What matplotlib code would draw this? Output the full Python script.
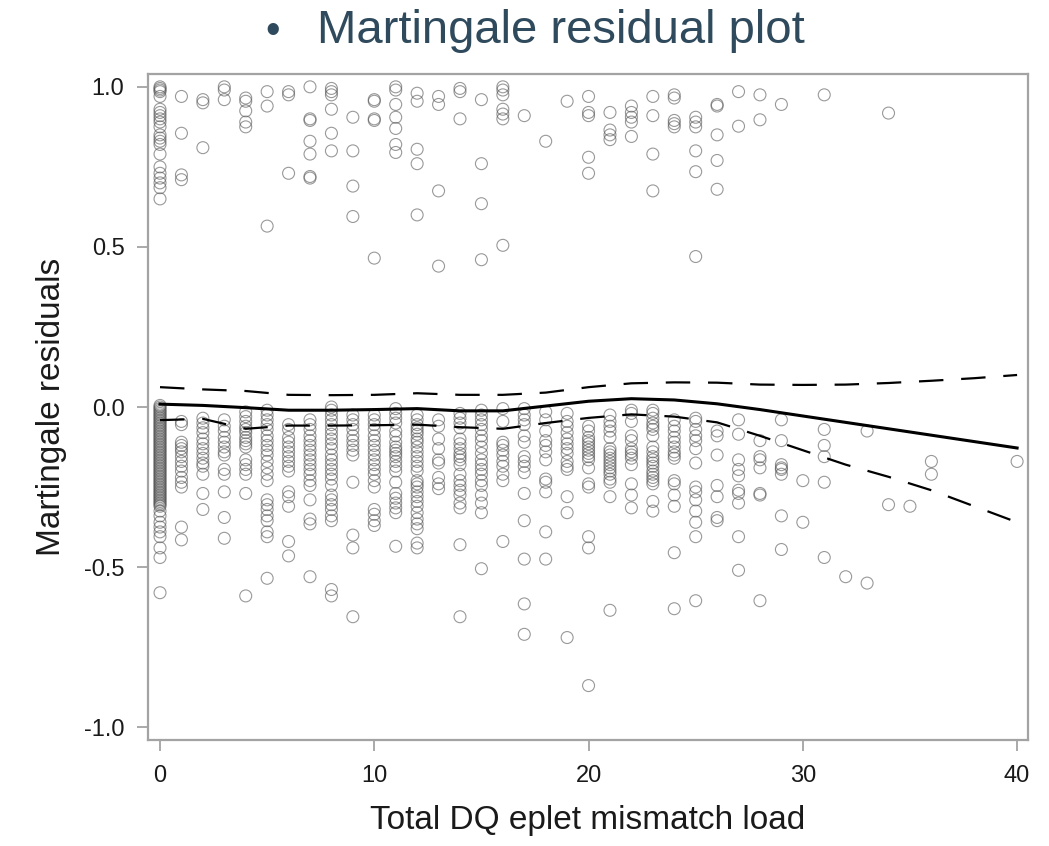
import matplotlib
matplotlib.use('Agg')
import matplotlib.pyplot as plt

plt.rcParams['font.family'] = ['Liberation Sans', 'DejaVu Sans']

# martingale residuals, grouped by total DQ eplet mismatch load
# upper band (patients with an event)
resid_hi = {
    0: [1.0, 0.995, 0.99, 0.985, 0.97, 0.93, 0.92, 0.91, 0.90, 0.89, 0.875, 0.85,
        0.84, 0.83, 0.82, 0.79, 0.75, 0.73, 0.715, 0.70, 0.685, 0.65],
    1: [0.97, 0.855, 0.725, 0.71],
    2: [0.96, 0.95, 0.81],
    3: [1.0, 0.99, 0.96],
    4: [0.965, 0.955, 0.925, 0.89, 0.875],
    5: [0.985, 0.94, 0.565],
    6: [0.985, 0.975, 0.73],
    7: [1.0, 0.90, 0.895, 0.83, 0.79, 0.72, 0.715],
    8: [0.995, 0.985, 0.975, 0.93, 0.855, 0.80],
    9: [0.905, 0.80, 0.69, 0.595],
    10: [0.96, 0.955, 0.90, 0.895, 0.465],
    11: [1.0, 0.99, 0.945, 0.905, 0.87, 0.82, 0.795],
    12: [0.98, 0.955, 0.805, 0.76, 0.60],
    13: [0.97, 0.945, 0.675, 0.44],
    14: [0.995, 0.985, 0.90],
    15: [0.96, 0.76, 0.635, 0.46],
    16: [1.0, 0.99, 0.975, 0.93, 0.915, 0.90, 0.505],
    17: [0.91],
    18: [0.83],
    19: [0.955],
    20: [0.97, 0.92, 0.91, 0.78, 0.73],
    21: [0.92, 0.865, 0.85, 0.835],
    22: [0.94, 0.92, 0.905, 0.89, 0.845],
    23: [0.97, 0.91, 0.79, 0.675],
    24: [0.975, 0.965, 0.895, 0.885, 0.875],
    25: [0.905, 0.89, 0.875, 0.80, 0.735, 0.47],
    26: [0.945, 0.94, 0.85, 0.77, 0.68],
    27: [0.985, 0.877],
    28: [0.975, 0.897],
    29: [0.945],
    31: [0.975],
    34: [0.918],
}

# lower band (censored patients)
resid_lo = {
    0: [0.005, 0.0, -0.005, -0.01, -0.015, -0.02, -0.025, -0.03, -0.035, -0.04, -0.045,
        -0.05, -0.055, -0.06, -0.065, -0.07, -0.075, -0.08, -0.085, -0.09, -0.095, -0.10,
        -0.105, -0.11, -0.115, -0.12, -0.125, -0.13, -0.135, -0.14, -0.145, -0.15, -0.155,
        -0.16, -0.165, -0.17, -0.175, -0.18, -0.185, -0.19, -0.195, -0.20, -0.205, -0.21,
        -0.215, -0.22, -0.225, -0.23, -0.235, -0.24, -0.245, -0.25, -0.255, -0.26, -0.265,
        -0.27, -0.275, -0.28, -0.285, -0.29, -0.295, -0.30, -0.305, -0.31, -0.325, -0.34,
        -0.36, -0.375, -0.39, -0.405, -0.44, -0.47, -0.58],
    1: [-0.045, -0.055, -0.11, -0.12, -0.13, -0.14, -0.155, -0.17, -0.185, -0.20, -0.22,
        -0.235, -0.25, -0.375, -0.415],
    2: [-0.035, -0.05, -0.065, -0.08, -0.10, -0.115, -0.13, -0.145, -0.16, -0.175, -0.185,
        -0.21, -0.27, -0.32],
    3: [-0.04, -0.06, -0.075, -0.095, -0.11, -0.125, -0.14, -0.15, -0.195, -0.21, -0.265,
        -0.345, -0.41],
    4: [-0.015, -0.03, -0.045, -0.06, -0.07, -0.08, -0.095, -0.105, -0.115, -0.125, -0.165,
        -0.18, -0.195, -0.21, -0.27, -0.59],
    5: [-0.01, -0.025, -0.04, -0.055, -0.07, -0.09, -0.105, -0.12, -0.135, -0.15, -0.17,
        -0.19, -0.21, -0.23, -0.29, -0.305, -0.32, -0.34, -0.355, -0.39, -0.405, -0.535],
    6: [-0.055, -0.07, -0.095, -0.11, -0.125, -0.14, -0.155, -0.17, -0.185, -0.20, -0.265,
        -0.28, -0.31, -0.42, -0.465],
    7: [-0.04, -0.055, -0.07, -0.09, -0.105, -0.12, -0.135, -0.15, -0.165, -0.18, -0.195,
        -0.21, -0.23, -0.245, -0.29, -0.35, -0.365, -0.53],
    8: [0.0, -0.01, -0.025, -0.04, -0.055, -0.07, -0.085, -0.10, -0.115, -0.13, -0.15,
        -0.165, -0.18, -0.195, -0.21, -0.225, -0.245, -0.275, -0.29, -0.305, -0.32, -0.34,
        -0.355, -0.57, -0.59],
    9: [-0.025, -0.04, -0.055, -0.07, -0.09, -0.105, -0.12, -0.135, -0.15, -0.235, -0.40,
        -0.44, -0.655],
    10: [-0.025, -0.04, -0.055, -0.07, -0.09, -0.105, -0.12, -0.135, -0.15, -0.165, -0.18,
         -0.195, -0.21, -0.23, -0.25, -0.32, -0.335, -0.355, -0.37],
    11: [-0.005, -0.02, -0.035, -0.05, -0.075, -0.09, -0.11, -0.125, -0.135, -0.145, -0.155,
         -0.17, -0.185, -0.20, -0.235, -0.27, -0.285, -0.30, -0.315, -0.33, -0.435],
    12: [-0.025, -0.04, -0.055, -0.065, -0.075, -0.085, -0.10, -0.11, -0.125, -0.14, -0.155,
         -0.17, -0.185, -0.20, -0.23, -0.24, -0.25, -0.265, -0.28, -0.295, -0.31, -0.33,
         -0.35, -0.365, -0.38, -0.425, -0.44],
    13: [-0.04, -0.06, -0.10, -0.13, -0.165, -0.175, -0.22, -0.24, -0.255],
    14: [-0.02, -0.035, -0.05, -0.065, -0.10, -0.115, -0.13, -0.145, -0.155, -0.165, -0.18,
         -0.21, -0.23, -0.245, -0.26, -0.275, -0.30, -0.315, -0.43, -0.655],
    15: [-0.01, -0.025, -0.04, -0.055, -0.07, -0.09, -0.105, -0.125, -0.145, -0.165, -0.18,
         -0.195, -0.21, -0.23, -0.245, -0.275, -0.30, -0.33, -0.505],
    16: [-0.005, -0.045, -0.11, -0.12, -0.135, -0.15, -0.17, -0.185, -0.21, -0.23, -0.42],
    17: [-0.005, -0.025, -0.04, -0.055, -0.09, -0.11, -0.155, -0.17, -0.185, -0.205, -0.27,
         -0.355, -0.475, -0.615, -0.71],
    18: [-0.015, -0.04, -0.075, -0.105, -0.12, -0.14, -0.165, -0.225, -0.235, -0.265, -0.39,
         -0.475],
    19: [-0.02, -0.045, -0.06, -0.08, -0.10, -0.115, -0.13, -0.145, -0.17, -0.185, -0.195,
         -0.28, -0.33, -0.72],
    20: [-0.06, -0.075, -0.095, -0.105, -0.115, -0.125, -0.135, -0.145, -0.155, -0.165,
         -0.19, -0.24, -0.25, -0.405, -0.44, -0.87],
    21: [-0.025, -0.045, -0.06, -0.075, -0.095, -0.13, -0.14, -0.15, -0.16, -0.17, -0.18,
         -0.19, -0.20, -0.21, -0.225, -0.235, -0.28, -0.635],
    22: [-0.01, -0.02, -0.045, -0.09, -0.105, -0.13, -0.14, -0.15, -0.16, -0.18, -0.24,
         -0.275, -0.315],
    23: [-0.01, -0.02, -0.035, -0.05, -0.06, -0.07, -0.09, -0.125, -0.14, -0.155, -0.165,
         -0.175, -0.185, -0.20, -0.21, -0.22, -0.23, -0.24, -0.295, -0.325],
    24: [-0.04, -0.06, -0.075, -0.095, -0.11, -0.125, -0.14, -0.15, -0.16, -0.23, -0.24,
         -0.275, -0.31, -0.455, -0.63],
    25: [-0.035, -0.045, -0.07, -0.09, -0.105, -0.13, -0.175, -0.25, -0.265, -0.29, -0.325,
         -0.36, -0.405, -0.605],
    26: [-0.075, -0.09, -0.15, -0.245, -0.28, -0.345, -0.355],
    27: [-0.04, -0.085, -0.165, -0.195, -0.215, -0.26, -0.27, -0.30, -0.405, -0.51],
    28: [-0.105, -0.155, -0.165, -0.19, -0.27, -0.275, -0.605],
    29: [-0.04, -0.105, -0.18, -0.19, -0.195, -0.21, -0.34, -0.445],
    30: [-0.23, -0.36],
    31: [-0.07, -0.12, -0.155, -0.235, -0.47],
    32: [-0.53],
    33: [-0.075, -0.55],
    34: [-0.305],
    35: [-0.31],
    36: [-0.17, -0.21],
    40: [-0.17],
}

# smoothed fit and its band
fit_x = [0, 2, 4, 6, 8, 10, 12, 14, 16, 18, 20, 22, 24, 26, 28, 30, 32, 34, 36, 38, 40]
fit_mid = [0.009, 0.005, -0.002, -0.01, -0.01, -0.008, -0.005, -0.012, -0.012, 0.003,
           0.018, 0.026, 0.022, 0.01, -0.008, -0.028, -0.048, -0.068, -0.088, -0.108, -0.128]
fit_upper = [0.062, 0.055, 0.05, 0.038, 0.037, 0.038, 0.043, 0.038, 0.038, 0.045,
             0.062, 0.074, 0.077, 0.076, 0.07, 0.069, 0.07, 0.075, 0.082, 0.09, 0.10]
fit_lower = [-0.041, -0.037, -0.068, -0.058, -0.058, -0.057, -0.055, -0.063, -0.068, -0.05,
             -0.034, -0.023, -0.03, -0.048, -0.09, -0.135, -0.18, -0.218, -0.26, -0.31, -0.36]

ytick_vals = [-1.0, -0.5, 0.0, 0.5, 1.0]
ytick_labels = ['-1.0', '-0.5', '0.0', '0.5', '1.0']
xtick_vals = [0, 10, 20, 30, 40]

axis_gray = '#a3a3a3'
title_color = '#2f4a5c'

fig = plt.figure(figsize=(10.49, 8.46), dpi=100)
ax = fig.add_axes([0.1411, 0.1253, 0.8389, 0.7872])

xs, ys = [], []
for band in (resid_hi, resid_lo):
    for load, vals in band.items():
        xs += [load] * len(vals)
        ys += vals
ax.scatter(xs, ys, s=74, facecolors='none', edgecolors='#555555',
           linewidths=0.8, alpha=0.6, zorder=2)

ax.plot(fit_x, fit_mid, color='black', lw=2.2, zorder=3)
ax.plot(fit_x, fit_upper, color='black', lw=1.6, dashes=(11, 8), zorder=3)
ax.plot(fit_x, fit_lower, color='black', lw=1.6, dashes=(11, 8), zorder=3)

ax.set_xlim(-0.56, 40.51)
ax.set_ylim(-1.04, 1.04)
ax.set_xticks(xtick_vals)
ax.set_xticklabels([str(v) for v in xtick_vals])
ax.set_yticks(ytick_vals)
ax.set_yticklabels(ytick_labels)

for sp in ax.spines.values():
    sp.set_color(axis_gray)
    sp.set_linewidth(1.6)
ax.tick_params(axis='both', color=axis_gray, width=1.3, length=8, labelsize=17,
               labelcolor='#1a1a1a')
ax.tick_params(axis='x', pad=10)
ax.tick_params(axis='y', pad=9)

ax.set_xlabel('Total DQ eplet mismatch load', fontsize=24, color='#1a1a1a', labelpad=13)
ax.set_ylabel('Martingale residuals', fontsize=24, color='#1a1a1a', labelpad=12)

fig.text(273 / 1049, 1 - 43 / 846, '\u2022', fontsize=30, color=title_color,
         ha='center', va='baseline')
fig.text(317 / 1049, 1 - 43 / 846, 'Martingale residual plot', fontsize=34,
         color=title_color, ha='left', va='baseline')

fig.savefig('out.png', dpi=100)
